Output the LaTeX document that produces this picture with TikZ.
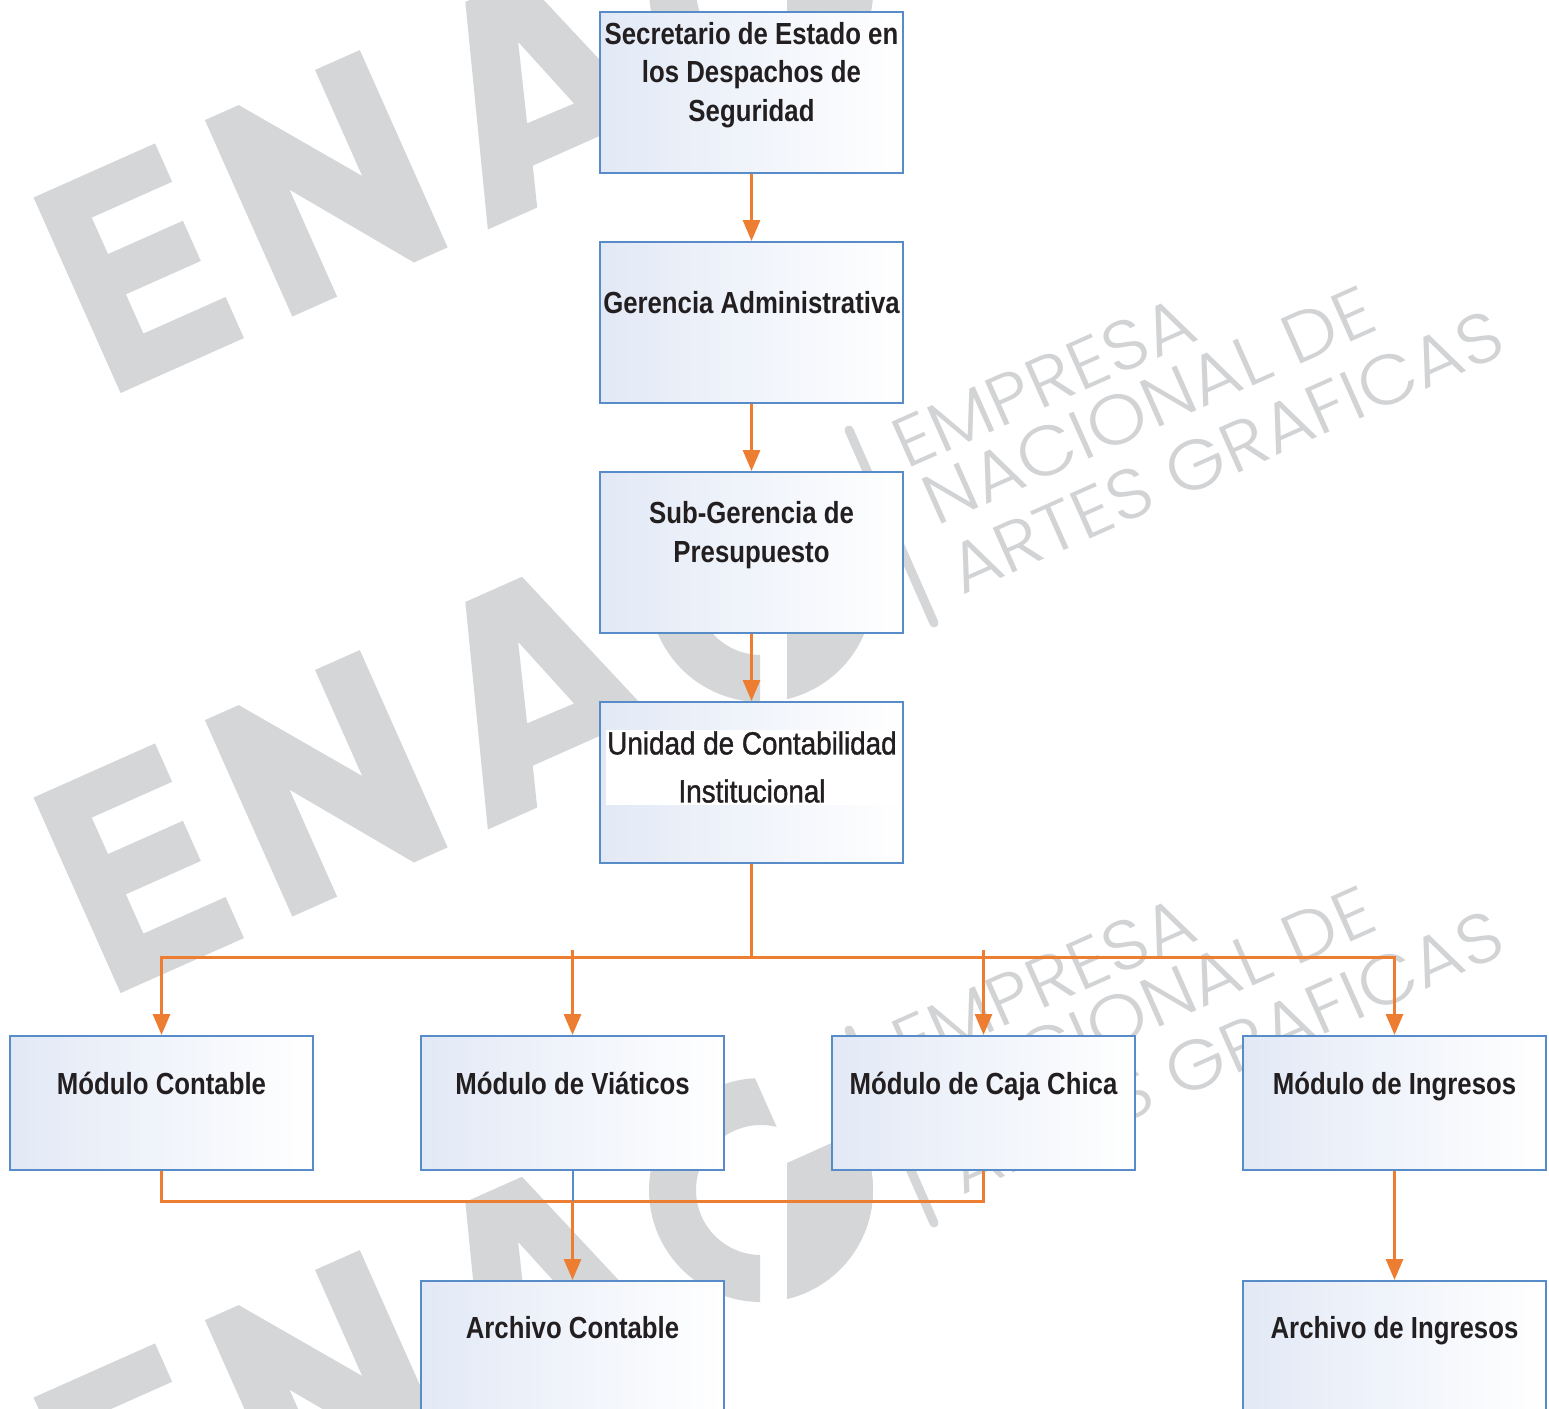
\documentclass[tikz,border=0pt]{standalone}
\usepackage{fontspec}
\setmainfont{Liberation Sans}
\newfontfamily\boxfont{Liberation Sans}[FakeStretch=0.845]
\newfontfamily\unitfont{Liberation Sans}[FakeStretch=0.87,FakeBold=1.2]
\IfFontExistsTF{Poppins Light}
  {\newfontfamily\wmfont{Poppins Light}}
  {\newfontfamily\wmfont{Poppins}}
\usetikzlibrary{arrows.meta}
\definecolor{linkorange}{RGB}{237,125,49}
\definecolor{boxblue}{RGB}{88,140,200}
\definecolor{boxtint}{RGB}{226,233,246}
\definecolor{inkblack}{RGB}{35,31,32}
\definecolor{wmgray}{RGB}{213,214,216}
\definecolor{wmlight}{RGB}{210,211,213}

\begin{document}
\begin{tikzpicture}[x=1pt,y=-1pt,
  unitbox/.style={draw=boxblue, line width=2pt, left color=boxtint,
    middle color=boxtint!30!white, right color=white,
    minimum width=303pt, inner sep=0pt},
  boxhi/.style={unitbox, minimum height=161pt},
  boxlo/.style={unitbox, minimum height=134pt},
  boxtext/.style={align=center, text=inkblack, inner sep=0pt,
    font=\boxfont\bfseries\fontsize{30.5}{38.5}\selectfont},
  unittext/.style={align=center, text=inkblack, fill=white, inner sep=0pt,
    minimum width=292pt, minimum height=75pt,
    font=\unitfont\fontsize{32}{48}\selectfont},
  link/.style={draw=linkorange, line width=3pt},
  arrowlink/.style={link, -{Triangle[width=17pt,length=21pt]}},
  wm/.style={fill=wmgray},
  wmtext/.style={text=wmlight, inner sep=0pt, anchor=base west, rotate=24, xscale=1.09,
    font=\wmfont\fontsize{70}{70}\selectfont},
]
\useasboundingbox (0,0) rectangle (1549,1408);
\clip (0,0) rectangle (1549,1408);
\fill[white] (0,0) rectangle (1549,1408);

% ---------- background logo, repeated down the page ----------
\foreach \dy/\k in {-600/1,0/2,600/3}{
  \begin{scope}[shift={(0,\dy)}]
    % large letters E, N, A
    \begin{scope}[shift={(120.6,993)}, rotate=24, y=1pt]
      \fill[wm] (0,0) -- (135,0) -- (135,45) -- (45,45) -- (45,88) -- (127,88)
        -- (127,132) -- (45,132) -- (45,172) -- (133,172) -- (133,214) -- (0,214) -- cycle;
      \fill[wm] (188,0) -- (237,0) -- (237,117) -- (321,0) -- (358,0) -- (358,216)
        -- (309,216) -- (309,100) -- (225,215) -- (188,215) -- cycle;
      \fill[wm, even odd rule] (402,0) -- (474,217) -- (536,217) -- (611,0) -- (557,0)
        -- (543,40) -- (469,40) -- (456,0) -- cycle
        (481,81) -- (532,80) -- (506,159) -- cycle;
    \end{scope}
    % large letter G
    \begin{scope}[shift={(761,590)}]
      \begin{scope}
        \clip (-1,130) -- (-130,130) -- (-130,-130) -- (-14.1,-130) -- (30.8,-29.1)
          -- (130,-73.3) -- (130,130) -- (26,130) -- (26,0) -- (-1,0) -- cycle;
        \fill[wm, even odd rule] (0,0) circle (112pt) (0,0) circle (65pt);
      \end{scope}
      \begin{scope}
        \clip (26,-27) -- (130,-73.3) -- (130,130) -- (26,130) -- cycle;
        \fill[wm] (0,0) circle (112pt);
      \end{scope}
    \end{scope}
    % separator bar and company name
    \draw[wmgray, line width=9pt, line cap=round] (849,1030) -- (934,1223);
    \node[wmtext] (wa\k) at (906,1070) {EMPRESA};
    \node[wmtext] (wb\k) at (936,1127) {NACIONAL DE};
    \node[wmtext] (wc\k) at (962,1196) {ARTES GRAFICAS};
  \end{scope}
}

% ---------- organisation chart ----------
\node[boxhi] (b1) at (751.5,92.5) {};
\node[boxhi] (b2) at (751.5,322.5) {};
\node[boxhi] (b3) at (751.5,552.5) {};
\node[boxhi] (b4) at (751.5,782.5) {};
\node[boxlo] (m1) at (161.5,1103) {};
\node[boxlo] (m2) at (572.5,1103) {};
\node[boxlo] (m3) at (983.5,1103) {};
\node[boxlo] (m4) at (1394.5,1103) {};
\node[boxlo] (a1) at (572.5,1348) {};
\node[boxlo] (a2) at (1394.5,1348) {};

\node[boxtext] (t1) at (751.5,75) {Secretario de Estado en\\los Despachos de\\Seguridad};
\node[boxtext, anchor=base] (t2) at (751.5,313) {Gerencia Administrativa};
\node[boxtext] (t3) at (751.5,535) {Sub-Gerencia de\\Presupuesto};
\node[unittext] (t4) at (752,767) {Unidad de Contabilidad\\Institucional};
\node[boxtext, anchor=base] (u1) at (161.5,1094) {Módulo Contable};
\node[boxtext, anchor=base] (u2) at (572.5,1094) {Módulo de Viáticos};
\node[boxtext, anchor=base] (u3) at (983.5,1094) {Módulo de Caja Chica};
\node[boxtext, anchor=base] (u4) at (1394.5,1094) {Módulo de Ingresos};
\node[boxtext, anchor=base] (v1) at (572.5,1338) {Archivo Contable};
\node[boxtext, anchor=base] (v2) at (1394.5,1338) {Archivo de Ingresos};

% connectors
\draw[arrowlink] (b1.south) -- (b2.north);
\draw[arrowlink] (b2.south) -- (b3.north);
\draw[arrowlink] (b3.south) -- (b4.north);
\coordinate (bus) at (751.5,957);
\draw[link] (b4.south) -- (bus);
\draw[arrowlink] (bus) -| (m1.north);
\draw[arrowlink] (bus) -| (m4.north);
\draw[arrowlink] ([yshift=7pt]bus -| m2.north) -- (m2.north);
\draw[arrowlink] ([yshift=7pt]bus -| m3.north) -- (m3.north);

\coordinate (merge) at (572.5,1201);
\draw[link] (m1.south) |- (merge) -| (m3.south);
\draw[draw=boxblue, line width=2pt] (m2.south) -- (merge);
\draw[arrowlink] (merge) -- (a1.north);
\draw[arrowlink] (m4.south) -- (a2.north);
\end{tikzpicture}
\end{document}
